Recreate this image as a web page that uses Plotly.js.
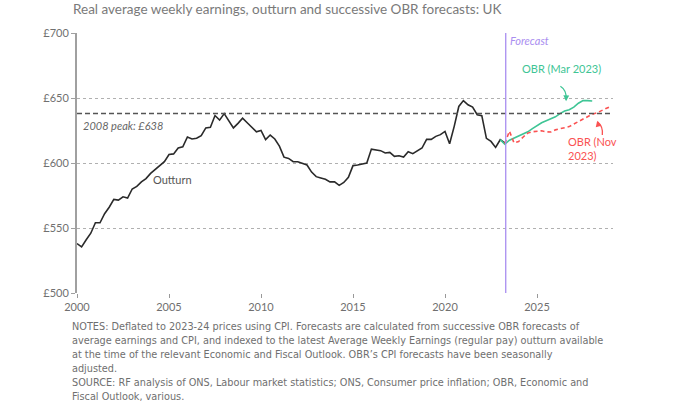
<!DOCTYPE html>
<html>
<head>
<meta charset="utf-8">
<script src="https://cdn.plot.ly/plotly-3.0.1.min.js"></script>
<style>
  html, body { margin: 0; padding: 0; background: #fff; }
  #chart { width: 680px; height: 403px; }
</style>
</head>
<body>
<div id="chart"></div>
<script>
// ---- Data ----
const outturnYears = [
  2000.00,2000.25,2000.50,2000.75,2001.00,2001.25,2001.50,2001.75,
  2002.00,2002.25,2002.50,2002.75,2003.00,2003.25,2003.50,2003.75,
  2004.00,2004.25,2004.50,2004.75,2005.00,2005.25,2005.50,2005.75,
  2006.00,2006.25,2006.50,2006.75,2007.00,2007.25,2007.50,2007.75,
  2008.00,2008.25,2008.50,2008.75,2009.00,2009.25,2009.50,2009.75,
  2010.00,2010.25,2010.50,2010.75,2011.00,2011.25,2011.50,2011.75,
  2012.00,2012.25,2012.50,2012.75,2013.00,2013.25,2013.50,2013.75,
  2014.00,2014.25,2014.50,2014.75,2015.00,2015.25,2015.50,2015.75,
  2016.00,2016.25,2016.50,2016.75,2017.00,2017.25,2017.50,2017.75,
  2018.00,2018.25,2018.50,2018.75,2019.00,2019.25,2019.50,2019.75,
  2020.00,2020.25,2020.50,2020.75,2021.00,2021.25,2021.50,2021.75,
  2022.00,2022.25,2022.50,2022.75,2023.00,2023.25
];
const outturnValues = [
  538,535.5,541,546,554,554,561,566,
  572,571.5,574,573,580,582,585.5,588,
  592,595,598,601,606.5,607,611.5,612.5,
  620,618.5,619,621,627,627.5,636.5,633,
  638,632,627,630.5,634.5,631,627.5,624,
  625,618,621.5,618.5,613,604.5,603.5,601,
  601,599.5,598.5,593,589.5,588.5,587.5,585.5,
  585.5,582.8,585,589,598,598.5,599.5,600,
  610.7,610.2,609.5,607.7,608.2,605.1,605.6,604.6,
  608.7,607.2,609.5,611.5,618.2,618.2,620.5,621.8,
  624.3,614.8,628.2,643.5,648,644.8,643,637.1,
  636.4,619,616.6,612,617.9,615.4
];

const marYears = [
  2023.00,2023.25,2023.50,2023.75,2024.00,2024.25,2024.50,2024.75,
  2025.00,2025.25,2025.50,2025.75,2026.00,2026.25,2026.50,2026.75,
  2027.00,2027.25,2027.50,2027.75,2028.00
];
const marValues = [
  618,614.5,617.5,619,620.5,622,624,626.5,
  629,631,632.5,634,635.5,638,640,641,
  643,646,648,648,647.7
];

const novYears = [
  2023.25,2023.50,2023.75,2024.00,2024.25,2024.50,2024.75,2025.00,
  2025.25,2025.50,2025.75,2026.00,2026.25,2026.50,2026.75,2027.00,
  2027.25,2027.50,2027.75,2028.00,2028.25,2028.50,2028.75,2029.00
];
const novValues = [
  615,624.5,615.5,616.5,620,623,624,624.4,
  624.8,624,623.8,625.5,626.5,627.5,628,630,
  632,633.5,635.5,637.5,638.5,640.5,642,643.5
];

const peakValue = 638;
const forecastStart = 2023.3;
const yTicks = [500, 550, 600, 650, 700];
const yTickLabels = ["£500", "£550", "£600", "£650", "£700"];
const xTicks = [2000, 2005, 2010, 2015, 2020, 2025];
const xTickLabels = ["2000", "2005", "2010", "2015", "2020", "2025"];

const titleText = "Real average weekly earnings, outturn and successive OBR forecasts: UK";
const notesText =
  "NOTES: Deflated to 2023-24 prices using CPI. Forecasts are calculated from successive OBR forecasts of<br>" +
  "average earnings and CPI, and indexed to the latest Average Weekly Earnings (regular pay) outturn available<br>" +
  "at the time of the relevant Economic and Fiscal Outlook. OBR’s CPI forecasts have been seasonally<br>" +
  "adjusted.<br>" +
  "SOURCE: RF analysis of ONS, Labour market statistics; ONS, Consumer price inflation; OBR, Economic and<br>" +
  "Fiscal Outlook, various.";

// ---- Styling ----
const FONT = "Lato, 'Open Sans', sans-serif";
const NOTE_FONT = "'Liberation Sans Narrow', 'DejaVu Sans Condensed', 'Roboto', sans-serif";
const GREY = "#707070";
const GREEN = "#3ec595";
const RED = "#fa5252";
const PURPLE = "#a98ef0";

const traces = [
  {
    x: outturnYears, y: outturnValues, type: "scatter", mode: "lines",
    line: { color: "#2a2a2a", width: 1.6 }, hoverinfo: "skip", showlegend: false
  },
  {
    x: marYears, y: marValues, type: "scatter", mode: "lines",
    line: { color: GREEN, width: 1.6 }, hoverinfo: "skip", showlegend: false
  },
  {
    x: novYears, y: novValues, type: "scatter", mode: "lines",
    line: { color: RED, width: 1.6, dash: "4px,3px" }, hoverinfo: "skip", showlegend: false
  }
];

const layout = {
  width: 680, height: 403,
  margin: { l: 77, r: 67, t: 33, b: 110 },
  paper_bgcolor: "#fff", plot_bgcolor: "#fff",
  font: { family: FONT, color: GREY, size: 11 },
  showlegend: false,
  xaxis: {
    range: [2000, 2029.13],
    tickvals: xTicks, ticktext: xTickLabels,
    showgrid: false, zeroline: false, showline: false,
    ticks: "outside", ticklen: 4, tickcolor: "#999",
    tickfont: { family: FONT, size: 11, color: GREY }
  },
  yaxis: {
    range: [500, 700],
    tickvals: yTicks, ticktext: yTickLabels,
    showgrid: true, gridcolor: "#b0b0b0", griddash: "dot", gridwidth: 1,
    zeroline: false, showline: true, linecolor: "#a0a0a0", linewidth: 2,
    ticks: "outside", ticklen: 4, tickcolor: "#a0a0a0",
    tickfont: { family: FONT, size: 11, color: GREY }
  },
  shapes: [
    { type: "line", xref: "paper", yref: "y", x0: 0, x1: 1, y0: peakValue, y1: peakValue,
      line: { color: "#555", width: 1.5, dash: "5px,3px" } },
    { type: "line", xref: "x", yref: "paper", x0: forecastStart, x1: forecastStart, y0: 0, y1: 1,
      line: { color: PURPLE, width: 1.3 } },
    { type: "path", xref: "x", yref: "y",
      path: "M 2026.27 659 Q 2026.62 656 2026.58 649",
      line: { color: GREEN, width: 1.3 } },
    { type: "path", xref: "x", yref: "y",
      path: "M 2028.55 621.5 Q 2028.6 628 2028.3 631.5",
      line: { color: RED, width: 1.3 } }
  ],
  annotations: [
    { text: titleText, xref: "paper", yref: "paper", x: -0.005, y: 1, xanchor: "left", yanchor: "bottom",
      yshift: 14, xshift: -3, showarrow: false, font: { family: FONT, size: 13.5, color: "#7a7a7a" } },
    { text: "<i>2008 peak: £638</i>", xref: "x", yref: "y", x: 2000.2, y: peakValue, xanchor: "left", yanchor: "top",
      yshift: -3, showarrow: false, font: { family: FONT, size: 11, color: "#666" } },
    { text: "Outturn", xref: "x", yref: "y", x: 2004, y: 587.5, xanchor: "left", yanchor: "middle",
      showarrow: false, font: { family: FONT, size: 11, color: "#555" } },
    { text: "<i>Forecast</i>", xref: "x", yref: "paper", x: forecastStart, y: 1, xanchor: "left", yanchor: "top",
      xshift: 2, yshift: 1, showarrow: false, font: { family: FONT, size: 11, color: PURPLE } },
    { text: "OBR (Mar 2023)", xref: "x", yref: "y", x: 2024.1, y: 673, xanchor: "left", yanchor: "middle",
      showarrow: false, font: { family: FONT, size: 11, color: GREEN } },
    { text: "OBR (Nov<br>2023)", xref: "x", yref: "y", x: 2026.55, y: 611, xanchor: "left", yanchor: "middle",
      align: "left", showarrow: false, font: { family: FONT, size: 11, color: RED } },
    { text: "", xref: "x", yref: "y", x: 2026.58, y: 647.5, ax: 0.2, ay: -6, showarrow: true,
      arrowhead: 2, arrowsize: 0.9, arrowwidth: 1.3, arrowcolor: GREEN },
    { text: "", xref: "x", yref: "y", x: 2028.27, y: 632.5, ax: 1.5, ay: 6, showarrow: true,
      arrowhead: 2, arrowsize: 0.9, arrowwidth: 1.3, arrowcolor: RED },
    { text: notesText, xref: "paper", yref: "paper", x: -0.005, y: 0, xanchor: "left", yanchor: "top",
      yshift: -25, xshift: -4, align: "left", showarrow: false,
      font: { family: NOTE_FONT, size: 10.8, color: "#6f6f6f" } }
  ]
};

Plotly.newPlot("chart", traces, layout, { staticPlot: true, displayModeBar: false });
</script>
</body>
</html>
